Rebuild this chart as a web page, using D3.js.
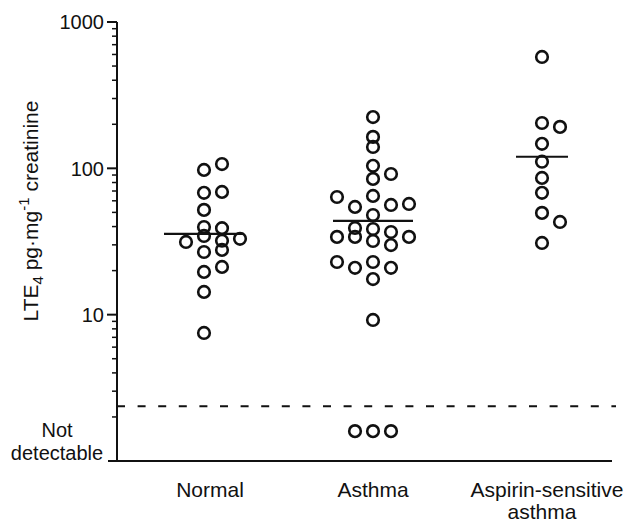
<!DOCTYPE html>
<html>
<head>
<meta charset="utf-8">
<script src="https://cdn.jsdelivr.net/npm/d3@7"></script>
<style>
  body { margin: 0; background: #fff; }
  text { font-family: "Liberation Sans", Arial, Helvetica, sans-serif; fill: #111; }
</style>
</head>
<body>
<div id="chart"></div>
<script>
// groups on the x axis
var groups = ["Normal", "Asthma", "Aspirin-sensitive asthma"];

// LTE4 values (pg/mg creatinine), with dot-column slot for each point
var normalValues = [97.5, 107, 68, 69, 52, 39.7, 39, 31.4, 34.5, 32, 33, 26.8, 27.7, 19.6, 21.2, 14.3, 7.5];
var normalSlots  = [0, 1, 0, 1, 0, 0, 1, -1, 0, 1, 2, 0, 1, 0, 1, 0, 0];

var asthmaValues = [224, 164, 140, 104, 91.5, 84.7, 63.7, 64.8, 54.5, 56.2, 57.1, 48, 39.1, 38.5, 36.7,
                    34, 34, 31.9, 29.9, 34, 22.9, 20.9, 22.9, 20.9, 17.5, 9.2];
var asthmaSlots  = [0, 0, 0, 0, 1, 0, -2, 0, -1, 1, 2, 0, -1, 0, 1, -2, -1, 0, 1, 2, -2, -1, 0, 1, 0, 0];

var aspirinValues = [577, 204, 192, 147, 111, 86, 68, 49.6, 43, 30.9];
var aspirinSlots  = [0, 0, 1, 0, 0, 0, 0, 0, 1, 0];

// medians drawn as horizontal bars
var medians = [35.6, 43.7, 120];

// subjects below detection limit
var notDetectable = [0, 3, 0];
var detectionLimit = 2.37;
var ndPlotValue = 1.6;

var yTicks = [10, 100, 1000];

var width = 625, height = 525;
var svg = d3.select("#chart").append("svg")
    .attr("width", width)
    .attr("height", height);

var y = d3.scaleLog().domain([1, 1000]).range([461, 22]);
var x = d3.scalePoint().domain(groups).range([204, 542]);
var slotW = 18;

var axisLeft = 117, axisRight = 612;

// y axis line
svg.append("line")
    .attr("x1", axisLeft).attr("x2", axisLeft)
    .attr("y1", y(1000)).attr("y2", y(1))
    .attr("stroke", "#111").attr("stroke-width", 2);

// x axis line (extends slightly left like a tick at 1)
svg.append("line")
    .attr("x1", axisLeft - 9).attr("x2", axisRight)
    .attr("y1", y(1)).attr("y2", y(1))
    .attr("stroke", "#111").attr("stroke-width", 2);

// minor ticks
var minor = [];
[1, 10, 100].forEach(function (d) {
    for (var k = 2; k <= 9; k++) minor.push(d * k);
});
svg.selectAll(".minor").data(minor).enter().append("line")
    .attr("x1", axisLeft - 5).attr("x2", axisLeft)
    .attr("y1", function (d) { return y(d); })
    .attr("y2", function (d) { return y(d); })
    .attr("stroke", "#111").attr("stroke-width", 1.5);

// major ticks + labels
svg.selectAll(".major").data(yTicks).enter().append("line")
    .attr("x1", axisLeft - 10).attr("x2", axisLeft)
    .attr("y1", function (d) { return y(d); })
    .attr("y2", function (d) { return y(d); })
    .attr("stroke", "#111").attr("stroke-width", 2);

svg.selectAll(".ylab").data(yTicks).enter().append("text")
    .attr("x", axisLeft - 13)
    .attr("y", function (d) { return y(d); })
    .attr("dy", "0.36em")
    .attr("text-anchor", "end")
    .attr("font-size", "20px")
    .text(function (d) { return d; });

// "Not detectable" label
var nd = svg.append("text")
    .attr("text-anchor", "middle")
    .attr("font-size", "20px");
nd.append("tspan").attr("x", 57).attr("y", 437).text("Not");
nd.append("tspan").attr("x", 57).attr("y", 460).text("detectable");

// y axis title
var yt = svg.append("text")
    .attr("transform", "translate(38,211) rotate(-90)")
    .attr("text-anchor", "middle")
    .attr("font-size", "21px");
yt.append("tspan").text("LTE");
yt.append("tspan").attr("font-size", "15px").attr("dy", "5").text("4");
yt.append("tspan").attr("dy", "-5").text(" pg\u00b7mg");
yt.append("tspan").attr("font-size", "15px").attr("dy", "-9").text("-1");
yt.append("tspan").attr("dy", "9").text(" creatinine");

// detection limit
svg.append("line")
    .attr("x1", axisLeft).attr("x2", 616)
    .attr("y1", y(detectionLimit)).attr("y2", y(detectionLimit))
    .attr("stroke", "#111").attr("stroke-width", 2)
    .attr("stroke-dasharray", "8,12.6");

// points
var series = [
    { group: groups[0], values: normalValues, slots: normalSlots },
    { group: groups[1], values: asthmaValues, slots: asthmaSlots },
    { group: groups[2], values: aspirinValues, slots: aspirinSlots }
];
var pts = [];
series.forEach(function (s, i) {
    s.values.forEach(function (v, j) {
        pts.push({ group: s.group, value: v, slot: s.slots[j] });
    });
    for (var k = 0; k < notDetectable[i]; k++) {
        pts.push({ group: s.group, value: ndPlotValue, slot: k - (notDetectable[i] - 1) / 2 });
    }
});

svg.selectAll("circle").data(pts).enter().append("circle")
    .attr("cx", function (d) { return x(d.group) + d.slot * slotW; })
    .attr("cy", function (d) { return y(d.value); })
    .attr("r", 5.8)
    .attr("fill", "none")
    .attr("stroke", "#111")
    .attr("stroke-width", 2.6);

// median bars
svg.selectAll(".med").data(groups).enter().append("line")
    .attr("x1", function (d, i) { return x(d) - (i == 2 ? 26 : 40); })
    .attr("x2", function (d, i) { return x(d) + (i == 2 ? 26 : 40); })
    .attr("y1", function (d, i) { return y(medians[i]); })
    .attr("y2", function (d, i) { return y(medians[i]); })
    .attr("stroke", "#111").attr("stroke-width", 2.2);

// category labels
svg.selectAll(".xlab").data(groups).enter().append("text")
    .attr("text-anchor", "middle")
    .attr("font-size", "21px")
    .each(function (d) {
        var t = d3.select(this);
        var parts = d == "Aspirin-sensitive asthma" ? ["Aspirin-sensitive", "asthma"] : [d];
        parts.forEach(function (p, i) {
            t.append("tspan").attr("x", x(d) + (i == 0 && parts.length > 1 ? 5 : 0) + (d == "Normal" ? 6 : 0))
                .attr("y", 497 + i * 22).text(p);
        });
    });
</script>
</body>
</html>
